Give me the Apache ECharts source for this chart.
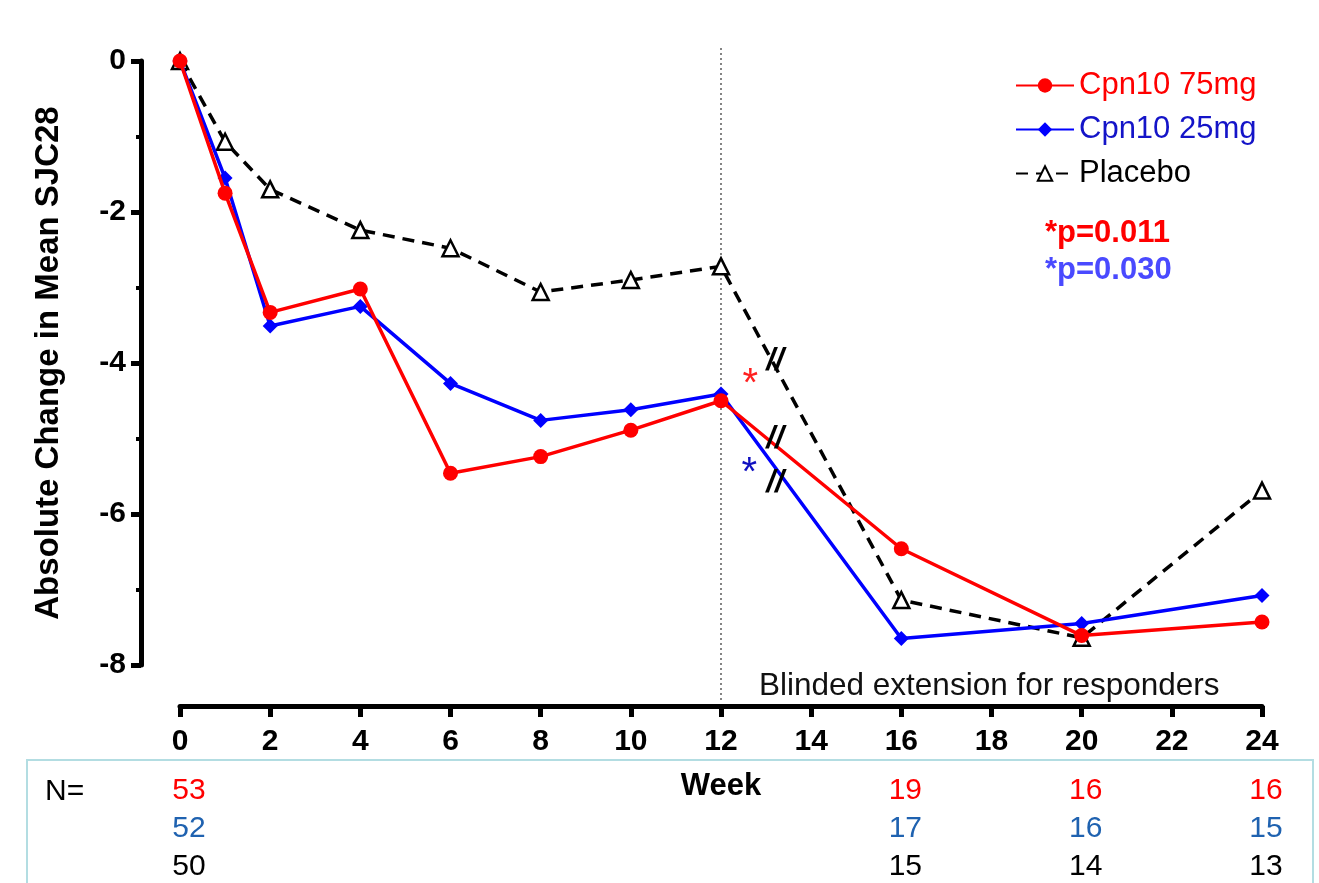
<!DOCTYPE html>
<html>
<head>
  <meta charset="UTF-8">
  <title>SJC28</title>
  <script src="https://cdn.jsdelivr.net/npm/echarts@6/dist/echarts.min.js"></script>
  <style>
    body { margin: 0; background: #fff; }
    #main { width: 1319px; height: 883px; }
  </style>
</head>
<body>
  <div id="main"></div>
  <script>
    // weeks and mean change values
    var weeks = [0, 1, 2, 4, 6, 8, 10, 12, 16, 20, 24];
    var cpn75 = [0, -1.75, -3.33, -3.02, -5.46, -5.24, -4.89, -4.50, -6.46, -7.61, -7.43];
    var cpn25 = [0, -1.55, -3.51, -3.25, -4.27, -4.76, -4.62, -4.41, -7.65, -7.45, -7.08];
    var placebo = [0, -1.07, -1.70, -2.24, -2.48, -3.06, -2.90, -2.72, -7.14, -7.64, -5.69];

    // patients per arm
    var nWeeks = [0, 16, 20, 24];
    var n75 = [53, 19, 16, 16];
    var n25 = [52, 17, 16, 15];
    var nPbo = [50, 15, 14, 13];

    // annotations (data coordinates)
    var breaks = [[13.2, -3.98], [13.2, -5.01], [13.2, -5.59]];
    var stars = [[12.65, -4.19, '#ff2020'], [12.63, -5.36, '#1010c0']];

    var font = 'Liberation Sans, Arial, sans-serif';
    var myChart = echarts.init(document.getElementById('main'));

    function pairs(ys) {
      return weeks.map(function (w, i) { return [w, ys[i]]; });
    }

    var option = {
      animation: false,
      textStyle: { fontFamily: font },
      grid: { left: 180, right: 57, top: 61, bottom: 218 },
      legend: {
        orient: 'vertical',
        left: 1010,
        top: 65,
        itemWidth: 58,
        itemHeight: 18,
        itemGap: 13,
        textStyle: { fontSize: 31, fontFamily: font },
        data: [
          { name: 'Cpn10 75mg', textStyle: { color: '#ff0000' } },
          { name: 'Cpn10 25mg', textStyle: { color: '#1414c8' } },
          { name: 'Placebo', textStyle: { color: '#000' } }
        ]
      },
      xAxis: {
        type: 'value',
        min: 0,
        max: 24,
        interval: 2,
        offset: 41,
        name: 'Week',
        nameLocation: 'middle',
        nameGap: 65,
        nameTextStyle: { fontSize: 31, fontWeight: 'bold', color: '#000' },
        axisLine: { onZero: false, lineStyle: { color: '#000', width: 5 } },
        axisTick: { length: 11, lineStyle: { color: '#000', width: 5 } },
        axisLabel: { fontSize: 30, fontWeight: 'bold', color: '#000', margin: 21 },
        splitLine: { show: false }
      },
      yAxis: {
        type: 'value',
        min: -8,
        max: 0,
        interval: 2,
        offset: 39,
        name: 'Absolute Change in Mean SJC28',
        nameLocation: 'middle',
        nameGap: 76,
        nameRotate: 90,
        nameTextStyle: { fontSize: 33, fontWeight: 'bold', color: '#000' },
        axisLine: { show: true, onZero: false, lineStyle: { color: '#000', width: 5 } },
        axisTick: { show: true, length: 10, lineStyle: { color: '#000', width: 5 } },
        minorTick: { show: true, splitNumber: 2, length: 5, lineStyle: { color: '#000', width: 4 } },
        axisLabel: { fontSize: 30, fontWeight: 'bold', color: '#000', margin: 15 },
        splitLine: { show: false }
      },
      series: [
        {
          name: 'Placebo',
          type: 'line',
          data: pairs(placebo),
          symbol: 'triangle',
          symbolSize: 16,
          lineStyle: { color: '#000', width: 3.5, type: [12, 8] },
          itemStyle: { color: '#fff', borderColor: '#000', borderWidth: 2.5 },
          z: 2
        },
        {
          name: 'Cpn10 25mg',
          type: 'line',
          data: pairs(cpn25),
          symbol: 'diamond',
          symbolSize: 15,
          lineStyle: { color: '#0000ff', width: 3.5 },
          itemStyle: { color: '#0000ff' },
          z: 3
        },
        {
          name: 'Cpn10 75mg',
          type: 'line',
          data: pairs(cpn75),
          symbol: 'circle',
          symbolSize: 15,
          lineStyle: { color: '#ff0000', width: 3.5 },
          itemStyle: { color: '#ff0000' },
          z: 4
        }
      ]
    };
    myChart.setOption(option);

    // overlay: dotted line, labels, N table, annotations
    var px = function (x, y) { return myChart.convertToPixel({ gridIndex: 0 }, [x, y]); };
    var g = [];
    var x12 = px(12, 0)[0];
    g.push({
      type: 'line', z: 1,
      shape: { x1: x12, y1: 48, x2: x12, y2: 702 },
      style: { stroke: '#333', lineWidth: 1.2, lineDash: [2, 3] }
    });
    g.push({
      type: 'text', z: 10,
      style: { x: 759, y: 686, text: 'Blinded extension for responders', font: '31.5px ' + font,
        fill: '#111', verticalAlign: 'middle' }
    });
    g.push({
      type: 'text', z: 10,
      style: { x: 1045, y: 233, text: '*p=0.011', font: 'bold 31px ' + font,
        fill: '#ff0000', verticalAlign: 'middle' }
    });
    g.push({
      type: 'text', z: 10,
      style: { x: 1045, y: 270, text: '*p=0.030', font: 'bold 31px ' + font,
        fill: '#4a4aff', verticalAlign: 'middle' }
    });
    breaks.forEach(function (b) {
      var p = px(b[0], b[1]);
      g.push({
        type: 'text', z: 10,
        style: { x: p[0], y: p[1], text: '//', font: 'italic bold 32px ' + font,
          fill: '#000', align: 'center', verticalAlign: 'middle' }
      });
    });
    stars.forEach(function (s) {
      var p = px(s[0], s[1]);
      g.push({
        type: 'text', z: 10,
        style: { x: p[0], y: p[1] + 8, text: '*', font: '40px ' + font,
          fill: s[2], align: 'center', verticalAlign: 'middle' }
      });
    });

    // N table
    g.push({
      type: 'rect', z: 0,
      shape: { x: 27, y: 760, width: 1286, height: 140 },
      style: { fill: 'none', stroke: '#b3dde2', lineWidth: 2 }
    });
    g.push({
      type: 'text', z: 10,
      style: { x: 45, y: 792, text: 'N=', font: '30px ' + font, fill: '#000', verticalAlign: 'middle' }
    });
    var rows = [[n75, '#ff0000', 791], [n25, '#1f62b0', 829], [nPbo, '#000', 867]];
    rows.forEach(function (r) {
      nWeeks.forEach(function (w, i) {
        var x = px(w, 0)[0] + (w === 0 ? 9 : 4);
        g.push({
          type: 'text', z: 10,
          style: { x: x, y: r[2], text: String(r[0][i]), font: '30px ' + font,
            fill: r[1], align: 'center', verticalAlign: 'middle' }
        });
      });
    });

    myChart.setOption({ graphic: g });
  </script>
</body>
</html>
